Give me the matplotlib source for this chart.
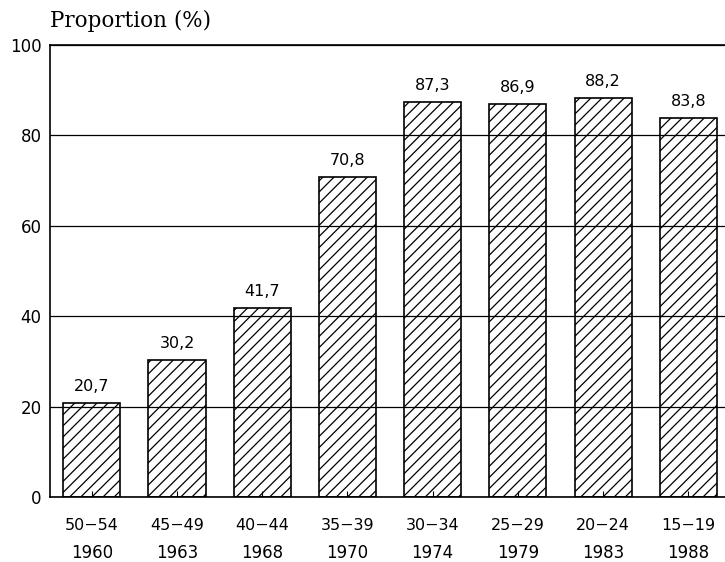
import numpy as np
import matplotlib.pyplot as plt
import matplotlib.transforms as mtransforms

age_groups = ["50\u221254", "45\u221249", "40\u221244", "35\u221239",
              "30\u221234", "25\u221229", "20\u221224", "15\u221219"]
years = ["1960", "1963", "1968", "1970", "1974", "1979", "1983", "1988"]
proportion = [20.7, 30.2, 41.7, 70.8, 87.3, 86.9, 88.2, 83.8]

plt.rcParams['hatch.linewidth'] = 0.9

fig = plt.figure(figsize=(7.25, 5.62), dpi=100)
ax = fig.add_axes([0.069, 0.1157, 0.931, 0.8043])

x = np.arange(len(proportion))
ax.set_axisbelow(True)
ax.grid(axis='y', color='black', linewidth=0.9)
bars = ax.bar(x, proportion, width=0.67, facecolor='none', edgecolor='black',
              linewidth=1.2, hatch='///')

for xi, v in zip(x, proportion):
    ax.text(xi, v + 2.0, f"{v:.1f}".replace('.', ','), ha='center', va='bottom',
            fontsize=11.5)

ax.set_xlim(-0.49, 7.43)
ax.set_ylim(0, 100)
ax.set_yticks([0, 20, 40, 60, 80, 100])
ax.tick_params(axis='y', length=0, labelsize=12, pad=6)
ax.set_xticks(x)
ax.set_xticklabels(age_groups, fontsize=11.5)
ax.tick_params(axis='x', direction='in', length=4, pad=15)

trans = mtransforms.blended_transform_factory(ax.transData, ax.transAxes)
for xi, yr in zip(x, years):
    ax.text(xi, -0.125, yr, transform=trans, ha='center', va='center', fontsize=12)

for side in ['left', 'bottom', 'top']:
    ax.spines[side].set_linewidth(1.2)
ax.spines['right'].set_visible(False)

fig.text(0.069, 0.963, "Proportion (%)", family='DejaVu Serif', fontsize=15.5,
         ha='left', va='center')

fig.savefig("out.png", dpi=100)
